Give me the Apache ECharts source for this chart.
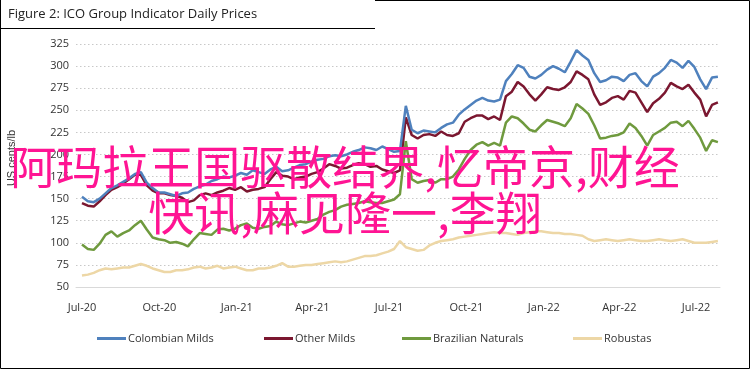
<!DOCTYPE html>
<html>
<head>
<meta charset="utf-8">
<script src="https://cdn.jsdelivr.net/npm/echarts@6/dist/echarts.min.js"></script>
<style>
html,body{margin:0;padding:0;background:#fff;}
#c{width:751px;height:370px;}
</style>
</head>
<body>
<div id="c"></div>
<script>
// weekly observation dates start & count
var startDate = '2020-07-01';
var weekCount = 109;
var seriesNames = ['Colombian Milds', 'Other Milds', 'Brazilian Naturals', 'Robustas'];
var quarterTicks = ['2020-07-01','2020-10-01','2021-01-01','2021-04-01','2021-07-01','2021-10-01','2022-01-01','2022-04-01','2022-07-01'];
var quarterLabels = ['Jul-20','Oct-20','Jan-21','Apr-21','Jul-21','Oct-21','Jan-22','Apr-22','Jul-22'];
var yTicks = [50,75,100,125,150,175,200,225,250,275,300,325];

var colombian = [152,147,146,150,156,162,165,169,173,178,180,168,162,157,157,155,153,156,157,161,
164,166,170,172,175,174,176,179,177,182,180,178,183,186,181,182,185,188,189,192,
194,195,198,199,198,200,203,205,208,207,205,209,206,203,204,255,228,224,227,226,
225,230,234,236,245,251,256,261,264,261,260,262,283,291,301,298,288,286,290,296,
300,297,293,305,318,312,307,292,282,284,288,287,283,290,292,283,277,288,292,298,
307,304,298,306,299,285,274,287,288];

var otherMilds = [145,142,141,147,154,160,163,167,172,177,177,165,159,156,156,154,153,151,146,148,
154,156,154,157,159,162,160,163,158,160,161,163,172,180,176,175,172,174,175,178,
180,184,189,187,184,185,188,190,189,186,187,183,181,179,182,242,222,218,222,223,
221,226,222,221,224,237,241,244,244,240,243,239,266,271,282,277,268,261,268,276,
274,273,276,282,294,290,285,268,256,259,264,266,262,272,270,259,248,258,263,270,
281,277,274,279,270,262,243,256,259];

var brazilian = [98,93,92,99,109,113,107,111,114,120,125,115,106,104,103,100,101,99,96,104,
111,110,109,115,116,114,116,120,122,117,116,118,119,124,121,120,122,124,123,125,
127,132,135,137,141,143,144,145,147,146,145,145,147,149,155,215,172,168,170,171,
168,172,172,175,183,195,205,211,214,210,213,210,236,243,241,235,228,226,233,239,
237,235,232,241,257,252,246,233,218,219,221,222,225,235,230,221,210,222,226,230,
236,237,232,238,229,219,204,216,214];

var robustas = [63,64,66,69,71,70,71,72,72,74,76,74,71,69,67,67,69,69,70,72,
73,71,72,74,71,72,73,71,69,69,71,71,72,74,77,73,73,74,75,75,
76,77,78,79,78,79,81,83,85,85,86,88,90,93,102,95,93,91,92,97,
100,102,103,104,106,107,108,109,110,111,112,111,111,110,109,111,112,113,113,112,
111,111,110,110,109,108,104,102,103,104,103,102,103,104,103,102,102,103,104,103,
102,103,104,102,100,100,100,101,102];

var colors = ['#4F81BD', '#7B1730', '#6F9A3E', '#EDD7A6'];

// x positions are days since startDate
function dayIndex(s){
  var p = s.split('-'), q = startDate.split('-');
  return Math.round((Date.UTC(+p[0], +p[1]-1, +p[2]) - Date.UTC(+q[0], +q[1]-1, +q[2])) / 86400000);
}
var tickDays = quarterTicks.map(dayIndex);
function pairs(vals){ return vals.map(function(v,i){ return [7*i, v]; }); }

var allVals = [colombian, otherMilds, brazilian, robustas];
var legendLeft = [92, 259, 397, 568];

var chart = echarts.init(document.getElementById('c'));
var font = '"Open Sans", "Noto Sans", sans-serif';
chart.setOption({
  animation: false,
  backgroundColor: '#fff',
  textStyle: { fontFamily: font },
  title: {
    text: 'Figure 2: ICO Group Indicator Daily Prices',
    left: 3, top: 3,
    textStyle: { fontSize: 13, fontWeight: 'normal', color: '#222', fontFamily: font }
  },
  grid: { left: 76, right: 31, top: 44, bottom: 83 },
  legend: seriesNames.map(function(n, i){
    return {
      data: [n], left: legendLeft[i], top: 328,
      itemWidth: 29, itemHeight: 3, itemGap: 0,
      icon: 'rect',
      textStyle: { fontSize: 11, color: '#333', fontFamily: font, padding: [0,0,0,-3] }
    };
  }),
  xAxis: {
    type: 'value',
    min: -7.1, max: 758.5,
    axisLine: { show: true, onZero: false, lineStyle: { color: '#d9d9d9', width: 1 } },
    axisTick: { show: false },
    splitLine: { show: false },
    axisLabel: {
      customValues: tickDays,
      formatter: function(v){ var i = tickDays.indexOf(Math.round(v)); return i >= 0 ? quarterLabels[i] : ''; },
      color: '#333', fontSize: 11, margin: 15, hideOverlap: false, showMinLabel: true, showMaxLabel: true
    }
  },
  yAxis: {
    type: 'value', min: yTicks[0], max: yTicks[yTicks.length-1], interval: 25,
    axisLine: { show: false }, axisTick: { show: false },
    splitLine: { lineStyle: { type: [1.5, 2.5], color: '#c8c8c8', width: 1 } },
    axisLabel: { color: '#333', fontSize: 11, margin: 7 }
  },
  series: seriesNames.map(function(n, i){
    return {
      name: n, type: 'line', data: pairs(allVals[i]),
      showSymbol: false, symbol: 'none',
      lineStyle: { color: colors[i], width: 2.5 },
      itemStyle: { color: colors[i] },
      z: 10 - i
    };
  }),
  graphic: [
    { type: 'text', x: 12, y: 158, rotation: Math.PI/2,
      style: { text: 'US cents/lb', fontSize: 11, fill: '#333', font: '11px "Open Sans", sans-serif', textAlign: 'center', textVerticalAlign: 'middle' } },
    { type: 'polyline', silent: true, z: 100,
      shape: { points: [[375, 0.5], [749.5, 0.5], [749.5, 368.5], [0.5, 368.5], [0.5, 0], [0.5, 28.5], [375, 28.5]] },
      style: { fill: 'none', stroke: '#000', lineWidth: 1 } },
    { type: 'text', x: 345, y: 167, z: 200,
      style: { text: '阿玛拉王国驱散结界,忆帝京,财经', font: '46px "Noto Sans CJK SC"', fill: '#FF1493', textAlign: 'center', textVerticalAlign: 'middle' } },
    { type: 'text', x: 345, y: 213, z: 200,
      style: { text: '快讯,麻见隆一,李翔', font: '46px "Noto Sans CJK SC"', fill: '#FF1493', textAlign: 'center', textVerticalAlign: 'middle' } }
  ]
});
</script>
</body>
</html>
